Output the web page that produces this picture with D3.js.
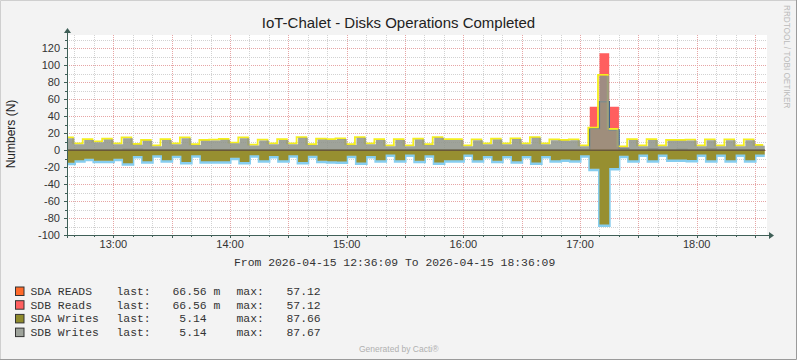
<!DOCTYPE html>
<html><head><meta charset="utf-8">
<script src="https://cdn.jsdelivr.net/npm/d3@7"></script>
<style>body{margin:0;background:#f3f3f3} svg{display:block} .pre{white-space:pre}</style>
</head><body><svg id="c" width="797" height="360"></svg>
<script>
// ---------- data ----------
const title = "IoT-Chalet - Disks Operations Completed";
const yLabel = "Numbers (N)";
const rangeStart = "2026-04-15 12:36:09";
const rangeEnd = "2026-04-15 18:36:09";
const firstSample = "2026-04-15 12:35:00";
const sampleMinutes = 5;
const yMin = -100, yMax = 135.7;
const yTicks = [-100, -80, -60, -40, -20, 0, 20, 40, 60, 80, 100, 120];
const xTickHours = ["13:00", "14:00", "15:00", "16:00", "17:00", "18:00"];

// SDB Writes (drawn upward)
const sdbWrites = [14, 7, 12, 9.4, 12.5, 7, 14, 6.3, 11, 4.7,
  12, 7, 14, 6, 11, 11.4, 12.2, 8, 14, 5.5,
  11.5, 7, 12, 7, 14.5, 6, 12.5, 12, 13, 6,
  14.5, 7, 12, 4.7, 12, 4.7, 12.5, 6, 14.5, 12,
  12, 4.7, 11.8, 7, 12.5, 7, 13, 7, 14.5, 7,
  11.8, 11, 11.8, 4.7, 25.5, 87.67, 24, 3.5, 12, 4.7,
  12, 4.7, 11, 11, 11.5, 4.7, 11.8, 4.7, 11.8, 4.7, 11.8, 5.14];
// SDA Writes (drawn downward)
const sdaWrites = [15, 12, 10, 12.5, 12.5, 10, 15.5, 7, 13, 6,
  12, 6.5, 14, 6, 13, 13, 13, 9, 14, 6,
  12, 7, 12, 6, 14, 6.5, 12.5, 13, 13.5, 6.5,
  14.5, 7, 12, 5, 12, 5, 12.5, 6, 14.5, 12,
  12, 5, 12, 7, 12.5, 7, 13, 7, 14.5, 7,
  12, 11, 12, 6, 22, 87.66, 21, 6.5, 12, 5,
  12, 5, 11, 11, 11.5, 5, 12, 5, 12, 5, 12, 5.14];
// SDA READS (stacked first)
const sdaReads = [0.1, 0.1, 0.1, 0.1, 0.1, 0.1, 0.8, 0.8, 0.1, 0.1,
  0.1, 0.1, 0.1, 0.1, 0.1, 0.1, 0.1, 0.1, 0.1, 0.1,
  0.1, 0.1, 0.1, 0.1, 0.1, 0.1, 0.1, 0.1, 0.1, 0.1,
  0.1, 0.1, 0.1, 0.1, 0.1, 0.1, 0.1, 0.1, 0.1, 0.1,
  0.1, 0.1, 0.1, 0.1, 0.5, 0.1, 0.1, 0.1, 0.1, 0.1,
  0.1, 0.1, 0.1, 0.1, 25.7, 57.12, 23.6, 1.5, 0.1, 0.1,
  1, 0.1, 0.1, 0.7, 0.1, 0.1, 1, 0.1, 0.1, 0.1, 0.1, 0.06656];
// SDB Reads (stacked on SDA READS)
const sdbReads = [0.1, 0.1, 0.1, 0.1, 0.1, 0.1, 0.8, 0.8, 0.1, 0.1,
  0.1, 0.1, 0.1, 0.1, 0.1, 0.1, 0.1, 0.1, 0.1, 0.1,
  0.1, 0.1, 0.1, 0.1, 0.1, 0.1, 0.1, 0.1, 0.1, 0.1,
  0.1, 0.1, 0.1, 0.1, 0.1, 0.1, 0.1, 0.1, 0.1, 0.1,
  0.1, 0.1, 0.1, 0.1, 0.5, 0.1, 0.1, 0.1, 0.1, 0.1,
  0.1, 0.1, 0.1, 0.1, 25.3, 57.12, 27.4, 1.5, 0.1, 0.1,
  1, 0.1, 0.1, 0.7, 0.1, 0.1, 1, 0.1, 0.1, 0.1, 0.1, 0.06656];

const legendNames = ["SDA READS", "SDB Reads", "SDA Writes", "SDB Writes"];
const legendColors = ["#FF6A2B", "#FF5F5F", "#8F8B2C", "#9EA39B"];
const legendLast = ["66.56 m", "66.56 m", " 5.14", " 5.14"];
const legendMax = ["57.12", "57.12", "87.66", "87.67"];

// ---------- drawing ----------
const W = 797, H = 360;
const P = {left: 67, right: 767, top: 35, bottom: 235};
const axisColor = "#3F5F57";
const svg = d3.select("#c");
const parse = d3.utcParse("%Y-%m-%d %H:%M:%S");
const t0 = parse(rangeStart), t1 = parse(rangeEnd);
const x = d3.scaleUtc().domain([t0, t1]).range([P.left, P.right]);
const y = d3.scaleLinear().domain([yMin, yMax]).range([P.bottom, P.top]);
const px = v => Math.round(v) + 0.5;

svg.append("rect").attr("width", W).attr("height", H).attr("fill", "#f3f3f3");
// frame
svg.append("path").attr("d", `M0.5,${H}V0.5H${W}`).attr("fill", "none").attr("stroke", "#cfcfcf");
svg.append("path").attr("d", `M0,${H-0.5}H${W-0.5}V0`).attr("fill", "none").attr("stroke", "#9a9a9a");

svg.append("rect").attr("x", P.left).attr("y", P.top)
  .attr("width", P.right - P.left).attr("height", P.bottom - P.top).attr("fill", "#ffffff");

// grid
const grid = svg.append("g").attr("shape-rendering", "crispEdges");
const minorY = d3.range(-100, yMax, 10);
minorY.forEach(v => {
  const major = v % 20 === 0;
  if (v === yMin) return;
  grid.append("line").attr("x1", P.left).attr("x2", P.right)
    .attr("y1", px(y(v))).attr("y2", px(y(v)))
    .attr("stroke", major ? "#e6a5a5" : "#d2d2d2").attr("stroke-dasharray", "1,1");
});
const minorX = d3.utcMinute.every(10).range(t0, t1);
minorX.forEach(t => {
  const major = t.getUTCMinutes() % 30 === 0;
  grid.append("line").attr("y1", P.top).attr("y2", P.bottom)
    .attr("x1", px(x(t))).attr("x2", px(x(t)))
    .attr("stroke", major ? "#e6a5a5" : "#d2d2d2").attr("stroke-dasharray", "1,1");
});

// data rows
const s0 = parse(firstSample);
const rows = sdbWrites.map((v, i) => ({
  t: d3.utcMinute.offset(s0, i * sampleMinutes),
  sdaR: sdaReads[i], sdbR: sdbReads[i], sdaW: sdaWrites[i], sdbW: sdbWrites[i]
}));
rows.push(Object.assign({}, rows[rows.length - 1], {t: d3.utcMinute.offset(rows[rows.length - 1].t, sampleMinutes)}));

svg.append("clipPath").attr("id", "clip").append("rect")
  .attr("x", P.left).attr("y", P.top - 4).attr("width", P.right - P.left).attr("height", P.bottom - P.top + 4);
const g = svg.append("g").attr("clip-path", "url(#clip)");
const area = (lo, hi) => d3.area().curve(d3.curveStepAfter).x(d => x(d.t)).y0(d => y(lo(d))).y1(d => y(hi(d)));
const line = f => d3.line().curve(d3.curveStepAfter).x(d => x(d.t)).y(d => y(f(d)));

g.append("path").datum(rows).attr("d", area(d => 0, d => d.sdaR)).attr("fill", legendColors[0]);
g.append("path").datum(rows).attr("d", area(d => d.sdaR, d => d.sdaR + d.sdbR)).attr("fill", legendColors[1]);
g.append("path").datum(rows).attr("d", line(d => d.sdaR)).attr("fill", "none").attr("stroke", "#2E5C8C").attr("stroke-width", 1.6);
g.append("path").datum(rows).attr("d", line(d => d.sdbW)).attr("fill", "none")
  .attr("stroke", "#F4EE1E").attr("stroke-width", 1.8).attr("transform", "translate(-1.5,-0.8)");
g.append("path").datum(rows).attr("d", area(d => 0, d => d.sdbW)).attr("fill", "#8F9489").attr("fill-opacity", 0.86);
g.append("path").datum(rows).attr("d", line(d => -d.sdaW)).attr("fill", "none")
  .attr("stroke", "#86CDEF").attr("stroke-width", 3).attr("transform", "translate(0,1)");
g.append("path").datum(rows).attr("d", area(d => 0, d => -d.sdaW)).attr("fill", "#978F30");
g.append("line").attr("x1", P.left).attr("x2", x(rows[rows.length - 1].t))
  .attr("y1", y(0)).attr("y2", y(0)).attr("stroke", "#6A5A38").attr("stroke-width", 1.5);

// axes
const ax = svg.append("g").attr("shape-rendering", "crispEdges");
ax.append("line").attr("x1", px(P.left)).attr("x2", px(P.left)).attr("y1", P.bottom + 3).attr("y2", P.top - 4)
  .attr("stroke", axisColor);
ax.append("line").attr("x1", P.left - 3).attr("x2", P.right + 3).attr("y1", px(P.bottom)).attr("y2", px(P.bottom))
  .attr("stroke", axisColor);
minorY.forEach(v => {
  ax.append("line").attr("x1", P.left - (v % 20 === 0 ? 3 : 2)).attr("x2", P.left)
    .attr("y1", px(y(v))).attr("y2", px(y(v))).attr("stroke", axisColor);
});
minorX.forEach(t => {
  ax.append("line").attr("y1", P.bottom).attr("y2", P.bottom + (t.getUTCMinutes() % 30 === 0 ? 3 : 2))
    .attr("x1", px(x(t))).attr("x2", px(x(t))).attr("stroke", axisColor);
});
svg.append("path").attr("d", `M${P.left + 0.5 - 3.5},${P.top - 2}L${P.left + 0.5},${P.top - 7}L${P.left + 0.5 + 3.5},${P.top - 2}Z`).attr("fill", axisColor);
svg.append("path").attr("d", `M${P.right + 2},${P.bottom + 0.5 - 3.5}L${P.right + 7},${P.bottom + 0.5}L${P.right + 2},${P.bottom + 0.5 + 3.5}Z`).attr("fill", axisColor);

// tick labels
const font = "'Liberation Sans', Arial, sans-serif";
svg.append("g").selectAll("text").data(yTicks).join("text")
  .attr("x", 60).attr("y", d => y(d)).attr("dy", "0.36em").attr("text-anchor", "end")
  .attr("font-family", font).attr("font-size", 11).attr("fill", "#333").text(d => d);
const dayStr = rangeStart.slice(0, 10);
svg.append("g").selectAll("text").data(xTickHours).join("text")
  .attr("x", d => x(parse(dayStr + " " + d + ":00"))).attr("y", 248).attr("text-anchor", "middle")
  .attr("font-family", font).attr("font-size", 11).attr("fill", "#333").text(d => d);

// titles
svg.append("text").attr("x", 398.5).attr("y", 28).attr("text-anchor", "middle")
  .attr("font-family", font).attr("font-size", 15).attr("fill", "#222").text(title);
svg.append("text").attr("transform", "translate(15,134) rotate(-90)").attr("text-anchor", "middle")
  .attr("font-family", font).attr("font-size", 12).attr("fill", "#222").text(yLabel);
svg.append("text").attr("transform", "translate(783.5,5) rotate(90)")
  .attr("font-family", font).attr("font-size", 8.2).attr("fill", "#bbbbbb").text("RRDTOOL / TOBI OETIKER");

const mono = "'Liberation Mono', 'DejaVu Sans Mono', monospace";
svg.append("text").attr("x", 234).attr("y", 266).attr("class", "pre")
  .attr("font-family", mono).attr("font-size", 11.4).attr("fill", "#333")
  .text(`From ${rangeStart} To ${rangeEnd}`);

const lg = svg.append("g").selectAll("g").data(legendNames).join("g")
  .attr("transform", (d, i) => `translate(0,${295 + i * 13.7})`);
lg.append("rect").attr("x", 15.5).attr("y", -8).attr("width", 8.5).attr("height", 8.5)
  .attr("fill", (d, i) => legendColors[i]).attr("stroke", "#333").attr("stroke-width", 1);
const lt = (xx, f) => lg.append("text").attr("x", xx).attr("class", "pre")
  .attr("font-family", mono).attr("font-size", 11.4).attr("fill", "#333").text(f);
lt(30.5, d => d);
lt(116.5, () => "last:");
lt(172.5, (d, i) => legendLast[i]);
lt(236.5, () => "max:");
lt(286.5, (d, i) => legendMax[i]);

svg.append("text").attr("x", 359).attr("y", 351.5).attr("font-family", font).attr("font-size", 8.5)
  .attr("fill", "#b0b0b0").text("Generated by Cacti®");
</script></body></html>
